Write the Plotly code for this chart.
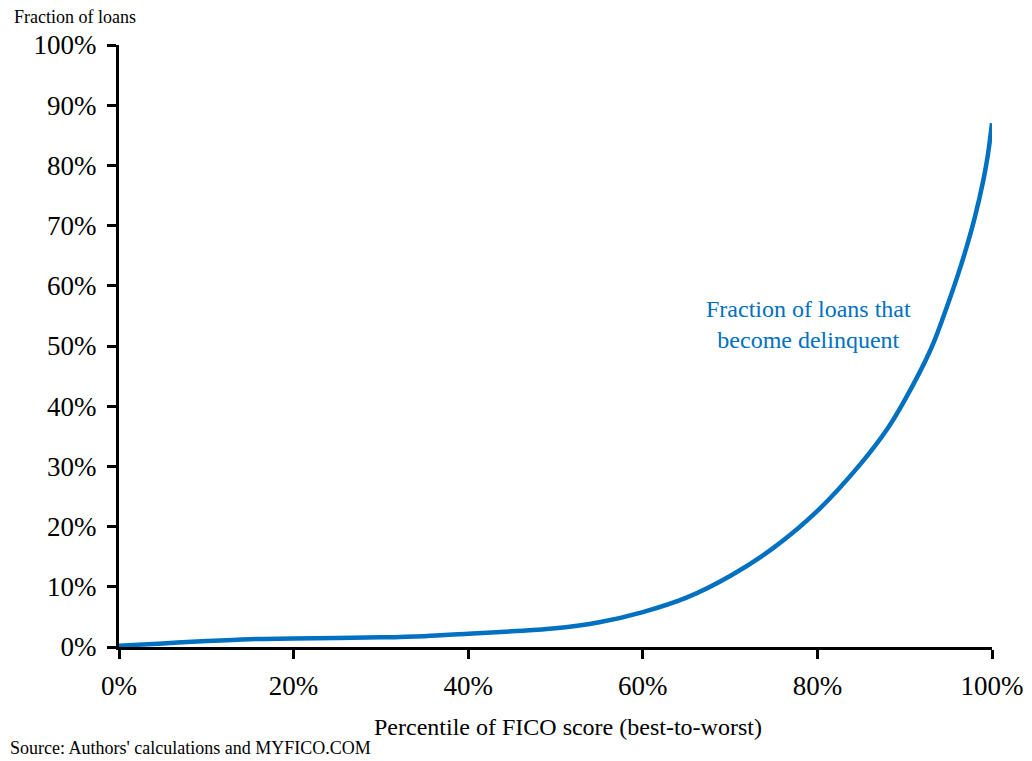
import plotly.graph_objects as go

# Percentile of FICO score (best-to-worst), fraction
pct = [0.00, 0.05, 0.10, 0.15, 0.20, 0.25, 0.30, 0.35, 0.40, 0.45, 0.50, 0.55, 0.60,
       0.65, 0.70, 0.75, 0.80, 0.85, 0.88, 0.90, 0.93, 0.95, 0.96, 0.97, 0.98, 0.99, 0.995, 1.00]
# Fraction of loans that become delinquent
delinq = [0.002, 0.006, 0.010, 0.013, 0.014, 0.015, 0.016, 0.018, 0.022, 0.026, 0.031, 0.041, 0.058,
          0.082, 0.118, 0.165, 0.226, 0.305, 0.362, 0.41, 0.495, 0.572, 0.614, 0.660, 0.712, 0.775, 0.815, 0.87]

x_ticks = [0, 0.2, 0.4, 0.6, 0.8, 1.0]
y_ticks = [i / 10 for i in range(11)]

FONT = "Liberation Serif"
BLUE = "#0070C0"
PW = 873  # plot-area width in px

fig = go.Figure()
fig.add_trace(go.Scatter(x=pct, y=delinq, mode="lines",
                         line=dict(color=BLUE, width=4.5, shape="spline", smoothing=1.0),
                         cliponaxis=False, showlegend=False, hoverinfo="skip"))

fig.update_layout(
    width=1032, height=761,
    margin=dict(l=119, r=40, t=45, b=114),
    paper_bgcolor="white", plot_bgcolor="white",
    font=dict(family=FONT, color="black"),
    xaxis=dict(range=[0, 1], tickvals=x_ticks, tickformat=".0%", automargin=False,
               showgrid=False, zeroline=False, showline=True, linecolor="black", linewidth=3,
               ticks="outside", ticklen=9, tickwidth=3, tickcolor="black",
               tickfont=dict(family=FONT, size=27), ticklabelstandoff=4),
    yaxis=dict(range=[0, 1], tickvals=y_ticks, tickformat=".0%", automargin=False,
               showgrid=False, zeroline=False, showline=True, linecolor="black", linewidth=3,
               ticks="outside", ticklen=9, tickwidth=3, tickcolor="black",
               tickfont=dict(family=FONT, size=27), ticklabelstandoff=5),
    annotations=[
        dict(text="Fraction of loans", xref="paper", yref="paper", x=-(119 - 12) / PW, y=1 + 28/602,
             xanchor="left", yanchor="middle", showarrow=False,
             font=dict(family=FONT, size=18, color="black")),
        dict(text="Percentile of FICO score (best-to-worst)", xref="paper", yref="paper",
             x=(568 - 119) / PW, y=-(727 - 647) / 602, xanchor="center", yanchor="middle",
             showarrow=False, font=dict(family=FONT, size=24, color="black")),
        dict(text="Source: Authors' calculations and MYFICO.COM", xref="paper", yref="paper",
             x=-(119 - 8) / PW, y=-(748 - 647) / 602, xanchor="left", yanchor="middle",
             showarrow=False, font=dict(family=FONT, size=18, color="black")),
        dict(text="Fraction of loans that<br>become delinquent", xref="paper", yref="paper",
             x=(808 - 119) / PW, y=(647 - 324) / 602, xanchor="center", yanchor="middle",
             showarrow=False, align="center", font=dict(family=FONT, size=24, color=BLUE)),
    ],
)

fig.write_html("out.html", config={"displayModeBar": False},
               post_script="document.body.style.margin='0';")
